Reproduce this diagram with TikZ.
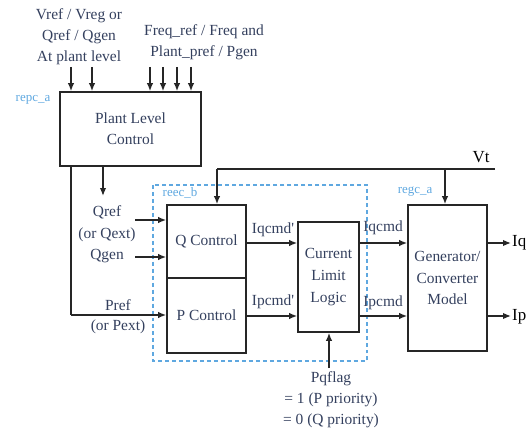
\documentclass[tikz,border=0pt]{standalone}
\usepackage{fontspec}
\setmainfont{Liberation Serif}
\usetikzlibrary{arrows.meta,calc}
\definecolor{txt}{HTML}{34405E}
\definecolor{lblue}{HTML}{5FA8E0}
\begin{document}
\begin{tikzpicture}[x=1bp,y=-1bp,
  every node/.style={font=\fontsize{15.5}{21}\selectfont,text=txt,inner sep=0pt},
  blk/.style={draw=black!85,line width=1.6pt,fill=white,align=center},
  ln/.style={draw=black!85,line width=1.5pt},
  arr/.style={ln,-{Latex[length=8pt,width=6.5pt]}},
  tag/.style={font=\fontsize{13}{15}\selectfont,text=lblue},
  lab/.style={align=center}]
\useasboundingbox (0,0) rectangle (531,433);
% dashed reec_b region
\draw[lblue,line width=1.1pt,dash pattern=on 4pt off 3pt] (153,185) rectangle (367,361);
% blocks
\node[blk,minimum width=141bp,minimum height=74bp] (plc) at (130.5,129) {Plant Level\\Control};
\node[blk,minimum width=79bp,minimum height=73bp] (qc) at (206.5,241.5) {Q Control};
\node[blk,minimum width=79bp,minimum height=75bp] (pc) at (206.5,315.5) {P Control};
\node[blk,minimum width=61bp,minimum height=110bp,font=\fontsize{15.5}{22}\selectfont] (cll) at (328.5,277) {Current\\Limit\\Logic};
\node[blk,minimum width=79bp,minimum height=146bp,font=\fontsize{15.5}{22}\selectfont] (gen) at (447.5,278) {Generator/\\Converter\\Model};
% tags
\node[tag] (tA) at (33,100) {repc\_a};
\node[tag] (tB) at (180,193) {reec\_b};
\node[tag] (tC) at (415,192) {regc\_a};
% top inputs
\node[lab] (inL) at (79,37) {Vref / Vreg or\\Qref / Qgen\\At plant level};
\node[lab] (inR) at (204,42) {Freq\_ref / Freq and\\Plant\_pref / Pgen};
\foreach \x/\n in {71/a,92/b,150/c,163/d,177/e,191/f}{
  \coordinate (top\n) at (\x,67);
  \draw[arr] (top\n) -- (top\n |- plc.north);
}
% plant outputs
\coordinate (c1) at (71,166);
\coordinate (c2) at (103,166);
\coordinate (c2e) at (103,196);
\coordinate (pcorner) at (71,315);
\draw[ln] (c1) -- (pcorner);
\draw[arr] (pcorner) -- (pcorner -| pc.west);
\draw[arr] (c2) -- (c2e);
\node[lab] (qref) at (107,212) {Qref};
\node[lab] (qext) at (107,235) {(or Qext)};
\node[lab] (qgen) at (107,256) {Qgen};
\node[lab] (pref) at (118,305) {Pref};
\node[lab] (pext) at (118,327) {(or Pext)};
\coordinate (qa) at (135,220);
\coordinate (qb) at (135,257);
\draw[arr] (qa) -- (qa -| qc.west);
\draw[arr] (qb) -- (qb -| qc.west);
% Vt bus
\coordinate (vtend) at (495,169);
\coordinate (vtq) at (217,169);
\coordinate (vtg) at (445,169);
\node[text=black,font=\fontsize{17}{20}\selectfont] (vt) at (481,157) {Vt};
\draw[ln] (vtend) -- (vtq);
\draw[arr] (vtq) -- (vtq |- qc.north);
\draw[arr] (vtg) -- (vtg |- gen.north);
% commands
\coordinate (iq1) at (246,243);
\coordinate (ip1) at (246,316);
\draw[arr] (iq1) -- (iq1 -| cll.west);
\draw[arr] (ip1) -- (ip1 -| cll.west);
\node (l1) at (273,230) {Iqcmd\textquotesingle};
\node (l2) at (273,302) {Ipcmd\textquotesingle};
\coordinate (iq2) at (359,243);
\coordinate (ip2) at (359,316);
\draw[arr] (iq2) -- (iq2 -| gen.west);
\draw[arr] (ip2) -- (ip2 -| gen.west);
\node (l3) at (383,228) {Iqcmd};
\node (l4) at (383,303) {Ipcmd};
% outputs
\coordinate (oq) at (487,243);
\coordinate (op) at (487,316);
\coordinate (oqe) at (511,243);
\coordinate (ope) at (511,316);
\draw[arr] (oq) -- (oqe);
\draw[arr] (op) -- (ope);
\node[text=black,font=\fontsize{17}{20}\selectfont,anchor=west] (iq) at (512,243) {Iq};
\node[text=black,font=\fontsize{17}{20}\selectfont,anchor=west] (ip) at (512,317) {Ip};
% Pqflag
\coordinate (pq) at (329,368);
\draw[arr] (pq) -- (pq |- cll.south);
\node[lab] (pqt) at (331,400) {Pqflag\\= 1 (P priority)\\= 0 (Q priority)};
\end{tikzpicture}
\end{document}
